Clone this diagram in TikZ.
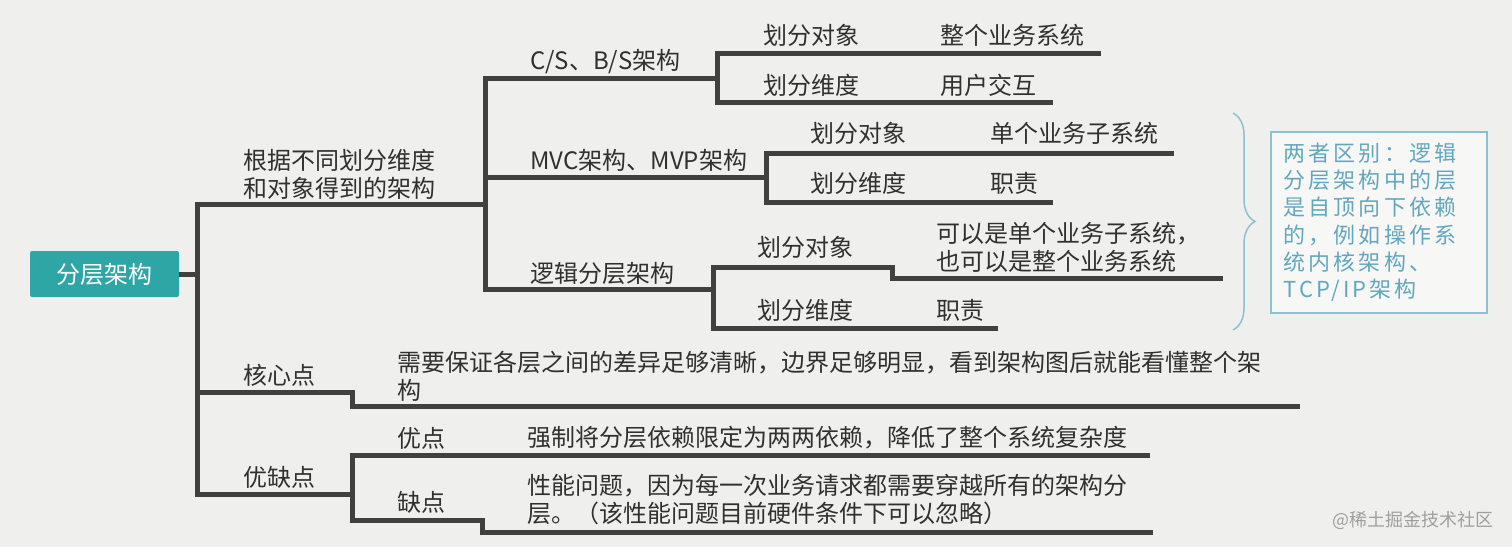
\documentclass[tikz,border=0pt]{standalone}
\usepackage{fontspec}
\setmainfont{Noto Sans CJK SC}
\usetikzlibrary{decorations.pathreplacing}
\definecolor{paper}{HTML}{EFEFED}
\definecolor{branch}{HTML}{404040}
\definecolor{inkgray}{HTML}{303030}
\definecolor{rootteal}{HTML}{2EA6A6}
\definecolor{noteblue}{HTML}{8CC0D3}
\definecolor{notetext}{HTML}{62A7BE}

\begin{document}
\begin{tikzpicture}[x=1pt,y=-1pt,
    topic/.style={anchor=west,inner sep=0pt,text=inkgray,align=left,
      font=\fontsize{24}{28}\selectfont},
    link/.style={draw=branch,line width=5pt,line join=miter}]
        \fill[paper] (0,0) rectangle (1512,547); % paper
        \useasboundingbox (0,0) rectangle (1512,547);

        \node[fill=rootteal,text=white,rounded corners=2pt,inner sep=0pt,
          minimum width=149pt,minimum height=46pt,
          font=\fontsize{24}{24}\selectfont] (root) at (104.5,274) {分层架构}; % root topic

        % forks and free ends of the branches
        \coordinate (rootfork) at (197,274);
        \coordinate (basisfork) at (485,204);
        \coordinate (csfork) at (717,78);
        \coordinate (mvcfork) at (766,177);
        \coordinate (lgfork) at (713,289);
        \coordinate (lgstep) at (892,267);
        \coordinate (corefork) at (352,392);
        \coordinate (pcfork) at (352,494);
        \coordinate (constep) at (482,520);
        \coordinate (csobjend) at (1101,53);
        \coordinate (csdimend) at (1053,102);
        \coordinate (mvcobjend) at (1174,153);
        \coordinate (mvcdimend) at (1053,202);
        \coordinate (lgobjend) at (1223,278);
        \coordinate (lgdimend) at (998,328);
        \coordinate (coreend) at (1300,406);
        \coordinate (proend) at (1150,455);
        \coordinate (conend) at (1153,532);

        \draw[link] (root.east) -- (rootfork); % root to trunk
        \draw[link] (basisfork) -| (pcfork -| rootfork) -- (pcfork); % trunk
        \draw[link] (corefork -| rootfork) -- (corefork) |- (coreend); % core point
        \draw[link] (csfork) -| (lgfork -| basisfork) -- (lgfork); % second spine
        \draw[link] (mvcfork -| basisfork) -- (mvcfork);
        \draw[link] (csobjend) -| (csfork |- csdimend) -- (csdimend); % C/S leaves
        \draw[link] (mvcdimend) -| (mvcfork |- mvcobjend) -- (mvcobjend); % MVC leaves
        \draw[link] (lgdimend) -| (lgfork |- lgstep) -- (lgstep) |- (lgobjend); % logic leaves
        \draw[link] (proend) -| (pcfork |- constep) -- (constep) |- (conend); % pros and cons

        \node[topic] (basis) at (243,174) {根据不同划分维度\\和对象得到的架构};
        \node[topic] (cs) at (530,62) {C/S、B/S架构};
        \node[topic] (csobj) at (763,35) {划分对象};
        \node[topic] (csobjv) at (940,35) {整个业务系统};
        \node[topic] (csdim) at (763,85) {划分维度};
        \node[topic] (csdimv) at (940,85) {用户交互};
        \node[topic] (mvc) at (530,160) {MVC架构、MVP架构};
        \node[topic] (mvcobj) at (810,133) {划分对象};
        \node[topic] (mvcobjv) at (990,133) {单个业务子系统};
        \node[topic] (mvcdim) at (810,183) {划分维度};
        \node[topic] (mvcdimv) at (990,183) {职责};
        \node[topic] (logic) at (530,273) {逻辑分层架构};
        \node[topic] (lgobj) at (757,247) {划分对象};
        \node[topic] (lgobjv) at (936,247.5) {可以是单个业务子系统，\\也可以是整个业务系统};
        \node[topic] (lgdim) at (757,310) {划分维度};
        \node[topic] (lgdimv) at (936,310) {职责};
        \node[topic] (core) at (243,375) {核心点};
        \node[topic] (corev) at (397,376.5) {需要保证各层之间的差异足够清晰，边界足够明显，看到架构图后就能看懂整个架\\构};
        \node[topic] (procon) at (243,477) {优缺点};
        \node[topic] (pro) at (397,438) {优点};
        \node[topic] (prov) at (527,438) {强制将分层依赖限定为两两依赖，降低了整个系统复杂度};
        \node[topic] (con) at (397,502) {缺点};
        \node[topic] (conv) at (527,499) {性能问题，因为每一次业务请求都需要穿越所有的架构分\\层。（该性能问题目前硬件条件下可以忽略）};

        % note on the difference
        \draw[noteblue,line width=1.5pt,decorate,decoration={brace,amplitude=22pt}]
          (1233,113) -- (1233,330);
        \node[draw=noteblue,line width=1.5pt,fill=white,fill opacity=0.5,text opacity=1,
          text=notetext,anchor=north west,minimum width=216pt,minimum height=181pt,
          inner sep=0pt,text width=190pt,align=left,
          font=\fontsize{22}{27.2}\selectfont\addfontfeatures{LetterSpace=14}] (note) at (1270,131)
          {两者区别：逻辑\\分层架构中的层\\是自顶向下依赖\\的，例如操作系\\统内核架构、\\TCP/IP架构};

        \node[anchor=east,inner sep=0pt,text=gray!75,font=\fontsize{18}{18}\selectfont] (mark) at (1494,520) {@稀土掘金技术社区};
\end{tikzpicture}
\end{document}
